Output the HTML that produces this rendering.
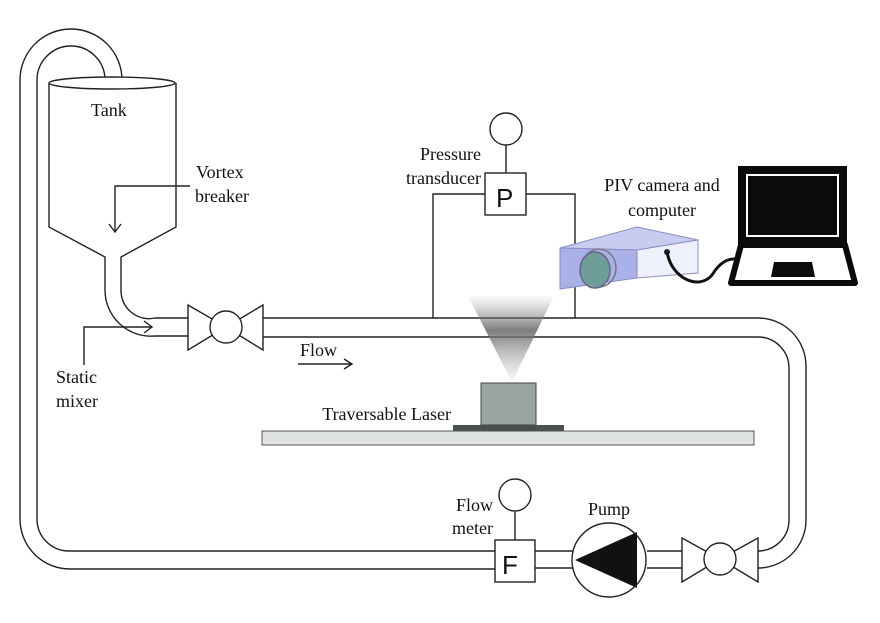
<!DOCTYPE html>
<html><head><meta charset="utf-8"><style>
html,body{margin:0;padding:0;background:#fff;}
svg{display:block;}
text{font-family:"Liberation Serif",serif;font-size:18px;fill:#111;}
.s{font-family:"Liberation Sans","DejaVu Sans",sans-serif;font-size:26px;}
</style></head><body>
<svg width="880" height="623" viewBox="0 0 880 623" xmlns="http://www.w3.org/2000/svg">
<defs>
<linearGradient id="cone" x1="0" y1="0" x2="0" y2="1">
<stop offset="0" stop-color="#999" stop-opacity="0.05"/>
<stop offset="0.4" stop-color="#666" stop-opacity="0.85"/>
<stop offset="1" stop-color="#bbb" stop-opacity="0.15"/>
</linearGradient>
</defs>
<g fill="none" stroke="#222" stroke-width="1.4">
<path d="M20,520 V80 A51,51 0 0 1 122,80"/>
<path d="M37,520 V80 A34,34 0 0 1 105,80"/>
<path d="M20,520 A50,50 0 0 0 70,569 H495"/>
<path d="M37,520 A32,32 0 0 0 69,551 H495"/>
<ellipse cx="112" cy="83" rx="63" ry="6" fill="#fff"/>
<path d="M49,83 V227 L105,257 V290 A46,46 0 0 0 155,336 H188"/>
<path d="M176,83 V227 L121,257 V290 A28,28 0 0 0 155,318 H188"/>
<path d="M188,305 L226,327 L188,350 Z M263,305 L226,327 L263,350 Z" fill="#fff"/>
<circle cx="226" cy="327" r="16" fill="#fff"/>
<path d="M263,318 H758 A48,48 0 0 1 806,366 V520 A48,48 0 0 1 758,568"/>
<path d="M263,337 H758 A31,31 0 0 1 789,368 V520 A31,31 0 0 1 758,551"/>
<path d="M682,538 L720,559 L682,582 Z M758,538 L720,559 L758,582 Z" fill="#fff"/>
<circle cx="720" cy="559" r="16" fill="#fff"/>
<path d="M647,551 H682 M647,568 H682 M535,551 H575 M535,568 H575"/>
<circle cx="609" cy="560" r="37" fill="#fff"/>
<rect x="495" y="540" width="40" height="42" fill="#fff"/>
<line x1="515" y1="540" x2="515" y2="512"/>
<circle cx="515" cy="495" r="16" fill="#fff"/>
<rect x="485" y="173" width="41" height="42" fill="#fff"/>
<line x1="506" y1="173" x2="506" y2="145"/>
<circle cx="506" cy="129" r="16" fill="#fff"/>
<path d="M485,194 H433 V318 M526,194 H575 V318"/>
<path d="M190,186 H115 V232 M109,224 L115,232 L121,224"/>
<path d="M84,365 V327 H152 M144,321 L152,327 L144,333"/>
<path d="M298,364 H352 M344,359 L352,364 L344,369"/>
</g>
<polygon points="575,560 637,532 637,588" fill="#111"/>
<text class="s" x="502" y="574">F</text>
<text class="s" x="496" y="207">P</text>
<polygon points="468,296 554,296 512,382" fill="url(#cone)"/>
<rect x="262" y="431" width="492" height="14" fill="#dfe3e3" stroke="#555" stroke-width="1"/>
<rect x="453" y="425" width="111" height="6" fill="#4a4f4f"/>
<rect x="481" y="383" width="55" height="42" fill="#9aa5a3" stroke="#444" stroke-width="1"/>
<g stroke="#8a8fc0" stroke-width="1">
<polygon points="560,248 637,227 698,240 637,250" fill="#c8ccf0"/>
<polygon points="560,248 637,250 637,278 560,289" fill="#aab0e8"/>
<polygon points="637,250 698,240 698,273 637,278" fill="#eef0fc"/>
</g>
<ellipse cx="599" cy="268" rx="17" ry="19" fill="none" stroke="#778" stroke-width="1.5"/>
<ellipse cx="595" cy="270" rx="15" ry="18" fill="#6f9e98" stroke="#668" stroke-width="1.5"/>
<circle cx="667" cy="252" r="3" fill="#223"/>
<path d="M667,252 C672,280 700,290 712,275 C720,262 728,258 738,259" fill="none" stroke="#111" stroke-width="3"/>
<rect x="740" y="168" width="105" height="75" fill="#0b0b0b" stroke="#0b0b0b" stroke-width="4"/>
<rect x="747" y="175" width="91" height="61" fill="#0b0b0b" stroke="#fff" stroke-width="2"/>
<polygon points="741,245 845,245 855,283 731,283" fill="#fff" stroke="#0b0b0b" stroke-width="6" stroke-linejoin="round"/>
<polygon points="774,262 812,262 815,277 771,277" fill="#0b0b0b"/>
<text x="91" y="116">Tank</text>
<text x="196" y="178">Vortex</text>
<text x="195" y="202">breaker</text>
<text x="56" y="383">Static</text>
<text x="56" y="407">mixer</text>
<text x="300" y="356">Flow</text>
<text x="481" y="160" text-anchor="end">Pressure</text>
<text x="481" y="184" text-anchor="end">transducer</text>
<text x="662" y="191" text-anchor="middle">PIV camera and</text>
<text x="662" y="216" text-anchor="middle">computer</text>
<text x="451" y="420" text-anchor="end">Traversable Laser</text>
<text x="493" y="511" text-anchor="end">Flow</text>
<text x="493" y="534" text-anchor="end">meter</text>
<text x="609" y="515" text-anchor="middle">Pump</text>
</svg>
</body></html>
